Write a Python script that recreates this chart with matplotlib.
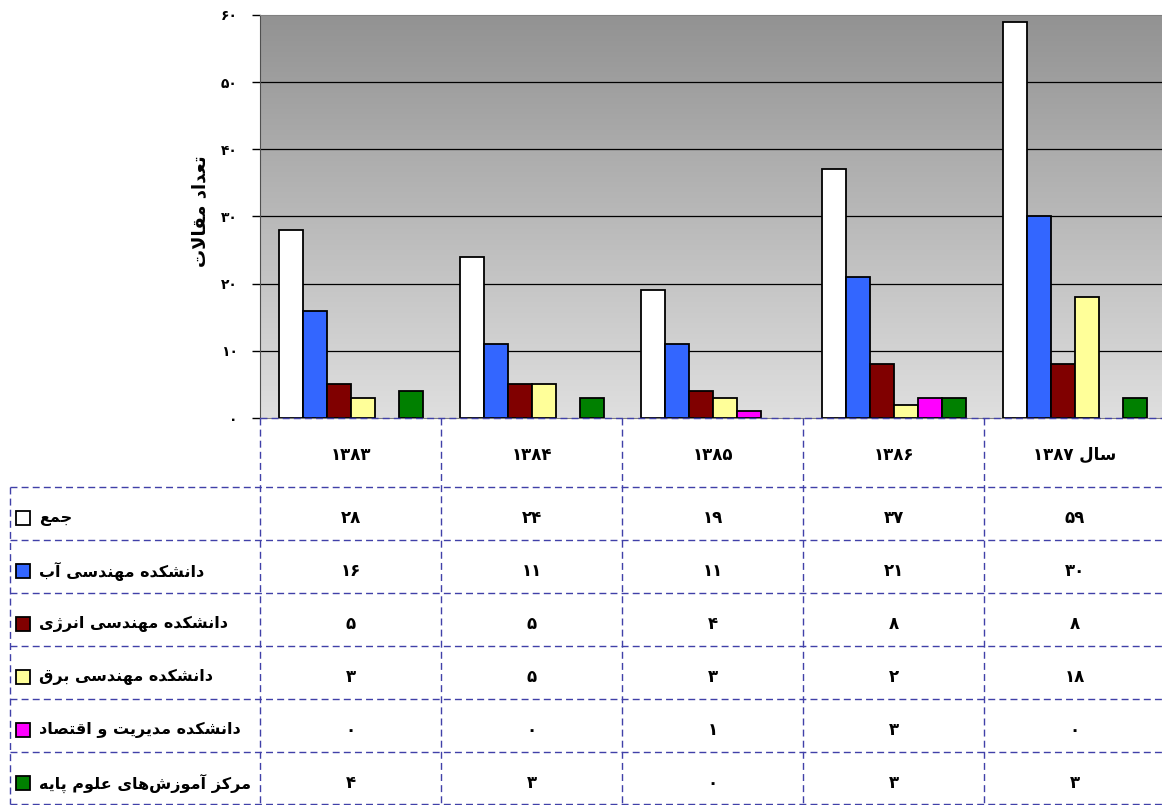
import re
import numpy as np
import matplotlib
matplotlib.use('Agg')
import matplotlib.pyplot as plt
from matplotlib.colors import LinearSegmentedColormap
from matplotlib.patches import Rectangle

# داده‌ها
years = ['۱۳۸۳', '۱۳۸۴', '۱۳۸۵', '۱۳۸۶', 'سال ۱۳۸۷']
series_names = ['جمع', 'دانشکده مهندسی آب', 'دانشکده مهندسی انرژی',
                'دانشکده مهندسی برق', 'دانشکده مدیریت و اقتصاد',
                'مرکز آموزش\u200cهای علوم پایه']
total = [28, 24, 19, 37, 59]
water = [16, 11, 11, 21, 30]
energy = [5, 5, 4, 8, 8]
electrical = [3, 5, 3, 2, 18]
management = [0, 0, 1, 3, 0]
basic_sci = [4, 3, 0, 3, 3]
series = [total, water, energy, electrical, management, basic_sci]
colors = ['#ffffff', '#3366ff', '#800000', '#ffff99', '#ff00ff', '#008000']
y_ticks = [0, 10, 20, 30, 40, 50, 60]

# شکل حروف عربی/فارسی (مستقل، پایانی، آغازی، میانی)
FORMS = {
    'ا': (0xFE8D, 0xFE8E), 'آ': (0xFE81, 0xFE82),
    'د': (0xFEA9, 0xFEAA), 'ر': (0xFEAD, 0xFEAE),
    'ز': (0xFEAF, 0xFEB0), 'ژ': (0xFB8A, 0xFB8B),
    'و': (0xFEED, 0xFEEE),
    'ب': (0xFE8F, 0xFE90, 0xFE91, 0xFE92),
    'پ': (0xFB56, 0xFB57, 0xFB58, 0xFB59),
    'ت': (0xFE95, 0xFE96, 0xFE97, 0xFE98),
    'ج': (0xFE9D, 0xFE9E, 0xFE9F, 0xFEA0),
    'س': (0xFEB1, 0xFEB2, 0xFEB3, 0xFEB4),
    'ش': (0xFEB5, 0xFEB6, 0xFEB7, 0xFEB8),
    'ص': (0xFEB9, 0xFEBA, 0xFEBB, 0xFEBC),
    'ع': (0xFEC9, 0xFECA, 0xFECB, 0xFECC),
    'ق': (0xFED5, 0xFED6, 0xFED7, 0xFED8),
    'ک': (0xFB8E, 0xFB8F, 0xFB90, 0xFB91),
    'ل': (0xFEDD, 0xFEDE, 0xFEDF, 0xFEE0),
    'م': (0xFEE1, 0xFEE2, 0xFEE3, 0xFEE4),
    'ن': (0xFEE5, 0xFEE6, 0xFEE7, 0xFEE8),
    'ه': (0xFEE9, 0xFEEA, 0xFEEB, 0xFEEC),
    'ی': (0xFBFC, 0xFBFD, 0xFBFE, 0xFBFF),
}
LAM_ALEF = {'ا': (0xFEFB, 0xFEFC), 'آ': (0xFEF5, 0xFEF6)}


def dual(c):
    return c in FORMS and len(FORMS[c]) == 4


def shape(text):
    out = []
    i, n = 0, len(text)
    while i < n:
        c = text[i]
        if c not in FORMS:
            if c != '\u200c':
                out.append(c)
            i += 1
            continue
        jp = i > 0 and dual(text[i - 1])
        if c == 'ل' and i + 1 < n and text[i + 1] in LAM_ALEF:
            lig = LAM_ALEF[text[i + 1]]
            out.append(chr(lig[1] if jp else lig[0]))
            i += 2
            continue
        jn = dual(c) and i + 1 < n and text[i + 1] in FORMS
        f = FORMS[c]
        if jp and jn:
            g = f[3]
        elif jp:
            g = f[1]
        elif jn:
            g = f[2]
        else:
            g = f[0]
        out.append(chr(g))
        i += 1
    return ''.join(out)


def rtl(text):
    # ترتیب نمایشی راست‌به‌چپ؛ اعداد از چپ به راست می‌مانند
    s = shape(text)
    runs = re.findall(r'[0-9۰-۹]+|[^0-9۰-۹]+', s)
    return ''.join(r if r[0].isdigit() else r[::-1] for r in reversed(runs))


FA_DIGITS = str.maketrans('0123456789', '۰۱۲۳۴۵۶۷۸۹')


def fa(v):
    return str(v).translate(FA_DIGITS)


plt.rcParams['font.family'] = ['DejaVu Sans']
plt.rcParams['font.weight'] = 'bold'

W, H = 1162, 805
fig = plt.figure(figsize=(W / 100, H / 100), dpi=100)

x0, col_w, top, base = 260, 181, 15, 418
ax = fig.add_axes([x0 / W, 1 - base / H, 5 * col_w / W, (base - top) / H])

# پس‌زمینه‌ی گرادیان
bg = LinearSegmentedColormap.from_list('bg', ['#dfdfdf', '#929292'])
grad = np.linspace(0, 1, 256).reshape(-1, 1)
ax.imshow(grad, extent=[0, 1, 0, 1], transform=ax.transAxes, cmap=bg,
          origin='lower', aspect='auto', zorder=0)

for t in y_ticks[1:-1]:
    ax.axhline(t, color='black', lw=0.9, zorder=1)

idx = np.arange(len(years))
bw = 24 / col_w
for j, (vals, col) in enumerate(zip(series, colors)):
    lws = [1.3 if v else 0 for v in vals]
    ax.bar(idx + (j - 2.5) * bw, vals, width=bw, color=col,
           edgecolor='black', linewidth=lws, zorder=3)

ax.set_xlim(-0.5, 4.5)
ax.set_ylim(0, 60)
ax.set_xticks([])
ax.set_yticks(y_ticks)
ax.set_yticklabels([fa(t) for t in y_ticks], fontsize=10, fontweight='bold')
ax.tick_params(axis='y', direction='out', length=6, width=1, pad=10)
ax.spines['left'].set_color('#505050')
ax.spines['top'].set_color('#808080')
ax.spines['bottom'].set_color('#808080')
ax.spines['right'].set_visible(False)

fig.text(200 / W, 1 - 211 / H, rtl('تعداد مقالات'), rotation=90,
         ha='center', va='center', fontsize=13, fontweight='bold')

# جدول داده‌ها زیر نمودار
tab = fig.add_axes([0, 0, 1, 1])
tab.set_xlim(0, W)
tab.set_ylim(H, 0)
tab.axis('off')

dash = dict(color='#4040a8', lw=1, linestyle=(0, (5, 3)))
row_top, row_h, tab_left = 487, 52.9, 10
n_rows = len(series)
tab_bottom = row_top + n_rows * row_h

tab.plot([x0, W], [base, base], **dash)
for k in range(n_rows + 1):
    y = row_top + k * row_h
    tab.plot([tab_left, W], [y, y], **dash)
tab.plot([tab_left, tab_left], [row_top, tab_bottom], **dash)
for c in range(len(years)):
    x = x0 + c * col_w
    tab.plot([x, x], [base, tab_bottom], **dash)

for i, yr in enumerate(years):
    tab.text(x0 + (i + 0.5) * col_w, (base + row_top) / 2 + 2, rtl(yr),
             ha='center', va='center', fontsize=12, fontweight='bold')

for r, (name, vals, col) in enumerate(zip(series_names, series, colors)):
    yc = row_top + (r + 0.5) * row_h + 5
    tab.add_patch(Rectangle((16, yc - 7), 14, 14, facecolor=col,
                            edgecolor='black', lw=1.3))
    tab.text(39, yc, rtl(name), ha='left', va='center', fontsize=11.5,
             fontweight='bold')
    for i, v in enumerate(vals):
        tab.text(x0 + (i + 0.5) * col_w, yc, fa(v), ha='center', va='center',
                 fontsize=12, fontweight='bold')

fig.savefig('out.png', dpi=100)
